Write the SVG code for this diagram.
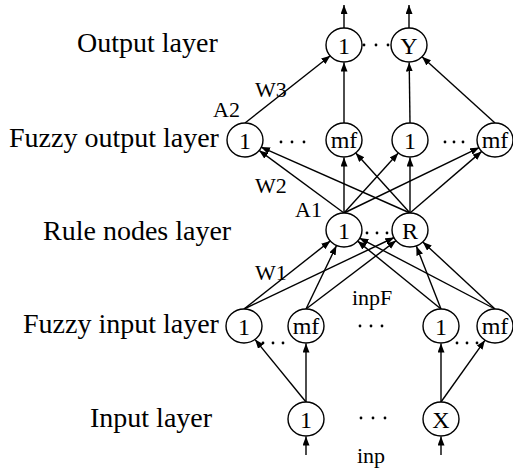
<svg xmlns="http://www.w3.org/2000/svg" width="513" height="476" viewBox="0 0 513 476">
<style>
.lbl{font-family:"Liberation Serif","Times New Roman",serif;font-size:28px;fill:#000}
.sm{font-family:"Liberation Serif","Times New Roman",serif;font-size:22px;fill:#000}
.nt{font-family:"Liberation Serif","Times New Roman",serif;font-size:24px;fill:#000;text-anchor:middle}
.nd{fill:#fff;stroke:#000;stroke-width:1.4}
.cn line{stroke:#000;stroke-width:1.4;marker-end:url(#ah)}
.dot{fill:#000}
</style>
<defs>
<marker id="ah" markerUnits="userSpaceOnUse" markerWidth="10" markerHeight="8" refX="9" refY="3.5" orient="auto">
<path d="M0,0 L9,3.5 L0,7 z" fill="#000"/>
</marker>
</defs>
<rect width="513" height="476" fill="#fff"/>
<g id="layer-labels">
<text class="lbl" x="77" y="52">Output layer</text>
<text class="lbl" x="9" y="147">Fuzzy output layer</text>
<text class="lbl" x="43" y="240">Rule nodes layer</text>
<text class="lbl" x="23" y="333">Fuzzy input layer</text>
<text class="lbl" x="90" y="427">Input layer</text>
</g>
<g id="connectors" class="cn">
<line x1="344" y1="28" x2="344" y2="5"/>
<line x1="409" y1="28" x2="409" y2="5"/>
<line x1="245" y1="123" x2="330.3" y2="55.8"/>
<line x1="344" y1="123" x2="344" y2="62.5"/>
<line x1="410" y1="123" x2="409.2" y2="62.5"/>
<line x1="495" y1="123" x2="422" y2="56.8"/>
<line x1="344" y1="213" x2="259.1" y2="150.4"/>
<line x1="344" y1="213" x2="344" y2="157.5"/>
<line x1="344" y1="213" x2="398.3" y2="153"/>
<line x1="344" y1="213" x2="479.2" y2="147.6"/>
<line x1="410" y1="213" x2="261" y2="147.1"/>
<line x1="410" y1="213" x2="355.7" y2="153"/>
<line x1="410" y1="213" x2="410" y2="157.5"/>
<line x1="410" y1="213" x2="481.7" y2="151.4"/>
<line x1="244" y1="309" x2="330.3" y2="240.9"/>
<line x1="306" y1="309" x2="336.4" y2="245.8"/>
<line x1="441" y1="309" x2="357.6" y2="241.1"/>
<line x1="495" y1="309" x2="359.5" y2="238.1"/>
<line x1="244" y1="309" x2="394.2" y2="237.5"/>
<line x1="306" y1="309" x2="396.1" y2="240.6"/>
<line x1="441" y1="309" x2="416.4" y2="246.3"/>
<line x1="495" y1="309" x2="422.8" y2="241.9"/>
<line x1="306" y1="402" x2="255.1" y2="339.6"/>
<line x1="306" y1="402" x2="306" y2="343.5"/>
<line x1="441" y1="402" x2="441" y2="343.5"/>
<line x1="441" y1="402" x2="484.9" y2="340.3"/>
<line x1="306" y1="455" x2="306" y2="436.5"/>
<line x1="441" y1="455" x2="441" y2="436.5"/>
</g>
<g id="edge-labels">
<text class="sm" x="255" y="97">W3</text>
<text class="sm" x="213" y="117">A2</text>
<text class="sm" x="255" y="193">W2</text>
<text class="sm" x="295" y="217">A1</text>
<text class="sm" x="255" y="280">W1</text>
<text class="sm" x="352" y="305">inpF</text>
<text class="sm" x="357" y="463">inp</text>
</g>
<g id="out1"><ellipse class="nd" cx="344" cy="45" rx="18" ry="17"/><text class="nt" x="344" y="53.5">1</text></g>
<g id="outY"><ellipse class="nd" cx="409" cy="45" rx="18" ry="17"/><text class="nt" x="409" y="53.5">Y</text></g>
<g id="fo1"><ellipse class="nd" cx="245" cy="140" rx="18" ry="17"/><text class="nt" x="245" y="148.5">1</text></g>
<g id="fomf"><ellipse class="nd" cx="344" cy="140" rx="18" ry="17"/><text class="nt" x="344" y="147.5">mf</text></g>
<g id="fo1b"><ellipse class="nd" cx="410" cy="140" rx="18" ry="17"/><text class="nt" x="410" y="148.5">1</text></g>
<g id="fomfb"><ellipse class="nd" cx="495" cy="140" rx="18" ry="17"/><text class="nt" x="495" y="147.5">mf</text></g>
<g id="rule1"><ellipse class="nd" cx="344" cy="230" rx="18" ry="17"/><text class="nt" x="344" y="238.5">1</text></g>
<g id="ruleR"><ellipse class="nd" cx="410" cy="230" rx="18" ry="17"/><text class="nt" x="410" y="238.5">R</text></g>
<g id="fi1"><ellipse class="nd" cx="244" cy="326" rx="18" ry="17"/><text class="nt" x="244" y="334.5">1</text></g>
<g id="fimf"><ellipse class="nd" cx="306" cy="326" rx="18" ry="17"/><text class="nt" x="306" y="333.5">mf</text></g>
<g id="fi1b"><ellipse class="nd" cx="441" cy="326" rx="18" ry="17"/><text class="nt" x="441" y="334.5">1</text></g>
<g id="fimfb"><ellipse class="nd" cx="495" cy="326" rx="18" ry="17"/><text class="nt" x="495" y="333.5">mf</text></g>
<g id="in1"><ellipse class="nd" cx="306" cy="419" rx="18" ry="17"/><text class="nt" x="306" y="427.5">1</text></g>
<g id="inX"><ellipse class="nd" cx="441" cy="419" rx="18" ry="17"/><text class="nt" x="441" y="427.5">X</text></g>
<g id="ellipsis-dots" class="dot">
<circle cx="364" cy="45" r="1.4"/><circle cx="376" cy="45" r="1.4"/><circle cx="388" cy="45" r="1.4"/>
<circle cx="281" cy="142" r="1.4"/><circle cx="292" cy="142" r="1.4"/><circle cx="304" cy="142" r="1.4"/>
<circle cx="445" cy="142" r="1.4"/><circle cx="454" cy="142" r="1.4"/><circle cx="463" cy="142" r="1.4"/>
<circle cx="367" cy="233" r="1.4"/><circle cx="377" cy="233" r="1.4"/><circle cx="387" cy="233" r="1.4"/>
<circle cx="263" cy="343" r="1.4"/><circle cx="273" cy="343" r="1.4"/><circle cx="283" cy="343" r="1.4"/>
<circle cx="360" cy="326" r="1.4"/><circle cx="371" cy="326" r="1.4"/><circle cx="382" cy="326" r="1.4"/>
<circle cx="457" cy="343" r="1.4"/><circle cx="467" cy="343" r="1.4"/><circle cx="477" cy="343" r="1.4"/>
<circle cx="361" cy="418" r="1.4"/><circle cx="373" cy="418" r="1.4"/><circle cx="385" cy="418" r="1.4"/>
</g>
</svg>
